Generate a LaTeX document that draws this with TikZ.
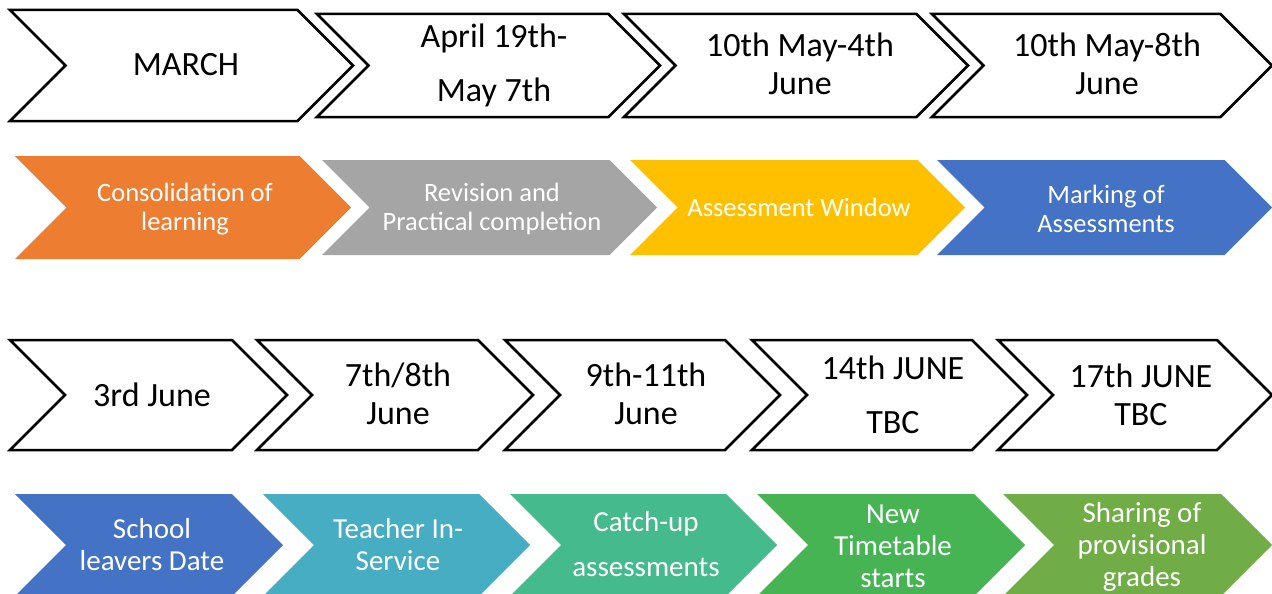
\documentclass[tikz,border=0pt]{standalone}
\usepackage{fontspec}
\setmainfont{Carlito}
\definecolor{cOrange}{HTML}{ED7D31}
\definecolor{cGray}{HTML}{A5A5A5}
\definecolor{cYellow}{HTML}{FFC000}
\definecolor{cBlue}{HTML}{4472C4}
\definecolor{cTeal}{HTML}{46ADC2}
\definecolor{cSea}{HTML}{45BA8C}
\definecolor{cGreen}{HTML}{47B454}
\definecolor{cOlive}{HTML}{70AD47}
% #1 style, #2 left, #3 top, #4 right tip, #5 bottom
\newcommand{\chev}[5]{\path[#1] (#2,#3) -- ({#4-(#5-#3)/2},#3) -- (#4,{(#3+#5)/2}) -- ({#4-(#5-#3)/2},#5) -- (#2,#5) -- ({#2+(#5-#3)/2},{(#3+#5)/2}) -- cycle;}
\begin{document}
\begin{tikzpicture}[x=1pt,y=-1pt,
  outl/.style={draw=black, line width=2.5pt, fill=white},
  filled/.style={fill=#1},
  datetext/.style={font=\fontsize{34}{38}\selectfont, align=center, text=black},
  acttext/.style={font=\fontsize{26.5}{29}\selectfont, align=center, text=white},
  acttextb/.style={font=\fontsize{29}{32}\selectfont, align=center, text=white}]
\useasboundingbox[fill=white] (0,0) rectangle (1272,594);
% row 1 outlines
\chev{outl}{10}{10}{353}{121}
\chev{outl}{317}{14}{660}{117}
\chev{outl}{624}{14}{968}{117}
\chev{outl}{932}{14}{1272}{117}
% row 2 fills
\chev{filled=cOrange}{15}{156}{351}{259}
\chev{filled=cGray}{322}{160}{657}{255}
\chev{filled=cYellow}{630}{160}{965}{255}
\chev{filled=cBlue}{937}{160}{1272}{255}
% row 3 outlines
\chev{outl}{10}{340}{287}{450}
\chev{outl}{257}{340}{533}{450}
\chev{outl}{505}{340}{780}{450}
\chev{outl}{752}{340}{1027}{450}
\chev{outl}{998}{340}{1272}{450}
% row 4 fills
\chev{filled=cBlue}{15}{494}{283}{596}
\chev{filled=cTeal}{263}{494}{530}{596}
\chev{filled=cSea}{510}{494}{777}{596}
\chev{filled=cGreen}{757}{494}{1025}{596}
\chev{filled=cOlive}{1003}{494}{1272}{596}
% row 1 text
\node[datetext] (d1) at (186,65) {MARCH};
\node[datetext] (d2) at (494,65.5) {April 19th-\\[16pt]May 7th};
\node[datetext] (d3) at (800,64) {10th May-4th\\June};
\node[datetext] (d4) at (1107,64) {10th May-8th\\June};
% row 2 text
\node[acttext] (a1) at (185,209) {Consolidation of\\learning};
\node[acttext] (a2) at (492,209) {Revision and\\Practical completion};
\node[acttext] (a3) at (799,207) {Assessment Window};
\node[acttext] (a4) at (1106,209) {Marking of\\Assessments};
% row 3 text
\node[datetext] (e1) at (152,395) {3rd June};
\node[datetext] (e2) at (398,394) {7th/8th\\June};
\node[datetext] (e3) at (646,394) {9th-11th\\June};
\node[datetext] (e4) at (893,395) {14th JUNE\\[16pt]TBC};
\node[datetext] (e5) at (1141,394.5) {17th JUNE\\TBC};
% row 4 text
\node[acttextb] (b1) at (152,545) {School\\leavers Date};
\node[acttextb] (b2) at (398,545) {Teacher In-\\Service};
\node[acttextb] (b3) at (646,544.5) {Catch-up\\[13pt]assessments};
\node[acttextb] (b4) at (893,546.5) {New\\Timetable\\starts};
\node[acttextb] (b5) at (1142,547) {Sharing of\\provisional\\grades};
\end{tikzpicture}
\end{document}
